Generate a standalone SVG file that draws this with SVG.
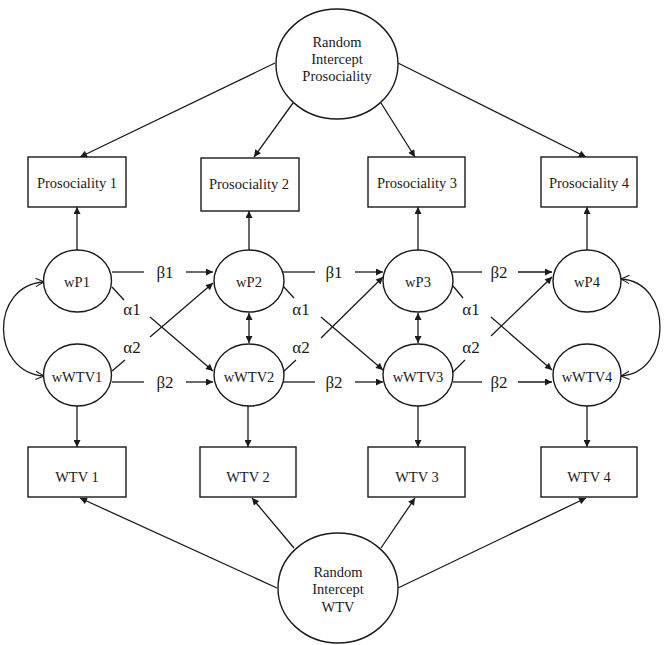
<svg xmlns="http://www.w3.org/2000/svg" width="664" height="645" viewBox="0 0 664 645">
<style>
.n{fill:#fff;stroke:#1a1a1a;stroke-width:1.4}
.t{font-family:"Liberation Serif","Times New Roman",serif;font-size:14.5px;fill:#1a1a1a;text-anchor:middle}
.g{font-family:"Liberation Serif","Times New Roman",serif;font-size:17px;fill:#1a1a1a;text-anchor:middle}
.e{fill:none;stroke:#1a1a1a;stroke-width:1.3}
.a{marker-end:url(#arr)}
.d{marker-start:url(#arr);marker-end:url(#arr)}
.o{marker-start:url(#open);marker-end:url(#open)}
</style>
<defs>
<marker id="arr" viewBox="0 0 10 10" refX="10" refY="5" markerWidth="8" markerHeight="7" markerUnits="userSpaceOnUse" orient="auto-start-reverse"><path d="M0,0 L10,5 L0,10 z" fill="#1a1a1a"/></marker>
<marker id="open" viewBox="0 0 12 12" refX="11" refY="6" markerWidth="10" markerHeight="11" markerUnits="userSpaceOnUse" orient="auto-start-reverse"><path d="M1,1 L11,6 L1,11" fill="none" stroke="#1a1a1a" stroke-width="1.3"/></marker>
</defs>
<rect width="664" height="645" fill="#fff"/>
<g id="connectors">
<line class="e a" x1="275" y1="63" x2="80" y2="157"/>
<line class="e a" x1="293" y1="103" x2="254" y2="157"/>
<line class="e a" x1="381" y1="103" x2="415" y2="157"/>
<line class="e a" x1="398" y1="63" x2="586" y2="157"/>
<line class="e a" x1="277" y1="588" x2="80" y2="498"/>
<line class="e a" x1="294" y1="548" x2="252" y2="498"/>
<line class="e a" x1="381" y1="548" x2="415" y2="498"/>
<line class="e a" x1="398" y1="588" x2="586" y2="498"/>
<line class="e a" x1="77" y1="250" x2="77" y2="207"/>
<line class="e a" x1="249" y1="250" x2="249" y2="211"/>
<line class="e a" x1="418" y1="250" x2="418" y2="207"/>
<line class="e a" x1="587" y1="250" x2="587" y2="207"/>
<line class="e a" x1="77" y1="406" x2="77" y2="447"/>
<line class="e a" x1="248" y1="406" x2="248" y2="447"/>
<line class="e a" x1="418" y1="406" x2="418" y2="447"/>
<line class="e a" x1="587" y1="406" x2="587" y2="447"/>
<line class="e d" x1="249" y1="313" x2="249" y2="343"/>
<line class="e d" x1="418" y1="313" x2="418" y2="343"/>
<path class="e o" d="M44,282 C-10,285 -10,372 44,376"/>
<path class="e o" d="M621,279 C673,282 673,372 621,376"/>
<line class="e" x1="112" y1="272" x2="144" y2="272"/>
<line class="e a" x1="186" y1="272" x2="213" y2="272"/>
<line class="e" x1="283" y1="272" x2="315" y2="272"/>
<line class="e a" x1="355" y1="272" x2="383" y2="272"/>
<line class="e" x1="452" y1="272" x2="482" y2="272"/>
<line class="e a" x1="518" y1="272" x2="552" y2="272"/>
<line class="e" x1="112" y1="382" x2="144" y2="382"/>
<line class="e a" x1="186" y1="382" x2="213" y2="382"/>
<line class="e" x1="283" y1="382" x2="315" y2="382"/>
<line class="e a" x1="355" y1="382" x2="383" y2="382"/>
<line class="e" x1="453" y1="382" x2="482" y2="382"/>
<line class="e a" x1="518" y1="382" x2="552" y2="382"/>
<line class="e" x1="112" y1="287" x2="124" y2="300"/>
<line class="e a" x1="150" y1="317" x2="213" y2="371"/>
<line class="e" x1="112" y1="371" x2="125" y2="360"/>
<line class="e a" x1="150" y1="337" x2="213" y2="283"/>
<line class="e" x1="283" y1="286" x2="294" y2="298"/>
<line class="e a" x1="321" y1="317" x2="383" y2="370"/>
<line class="e" x1="283" y1="372" x2="296" y2="360"/>
<line class="e a" x1="321" y1="338" x2="383" y2="277"/>
<line class="e" x1="453" y1="286" x2="463" y2="298"/>
<line class="e a" x1="491" y1="317" x2="552" y2="370"/>
<line class="e" x1="452" y1="373" x2="465" y2="360"/>
<line class="e a" x1="491" y1="336" x2="552" y2="277"/>
</g>
<g id="edge-labels">
<text class="g" x="165" y="278">β1</text>
<text class="g" x="334" y="278">β1</text>
<text class="g" x="499" y="278">β2</text>
<text class="g" x="165" y="388">β2</text>
<text class="g" x="334" y="388">β2</text>
<text class="g" x="499" y="388">β2</text>
<text class="g" x="132" y="315">α1</text>
<text class="g" x="301" y="315">α1</text>
<text class="g" x="471" y="315">α1</text>
<text class="g" x="132" y="353">α2</text>
<text class="g" x="301" y="353">α2</text>
<text class="g" x="471" y="353">α2</text>
</g>
<g id="ri-prosociality"><ellipse class="n" cx="337" cy="64" rx="61" ry="55"/><text class="t" x="337" y="47">Random</text><text class="t" x="337" y="64">Intercept</text><text class="t" x="337" y="81">Prosociality</text></g>
<g id="ri-wtv"><ellipse class="n" cx="338" cy="588" rx="60" ry="55"/><text class="t" x="338" y="577">Random</text><text class="t" x="338" y="594">Intercept</text><text class="t" x="338" y="612">WTV</text></g>
<g id="prosociality1"><rect class="n" x="28" y="157" width="98" height="50"/><text class="t" x="77" y="188">Prosociality 1</text></g>
<g id="prosociality2"><rect class="n" x="201" y="158" width="98" height="53"/><text class="t" x="249" y="189">Prosociality 2</text></g>
<g id="prosociality3"><rect class="n" x="368" y="157" width="97" height="50"/><text class="t" x="417" y="188">Prosociality 3</text></g>
<g id="prosociality4"><rect class="n" x="541" y="157" width="96" height="50"/><text class="t" x="589" y="188">Prosociality 4</text></g>
<g id="wP1"><ellipse class="n" cx="77.5" cy="281" rx="34" ry="31"/><text class="t" x="77" y="287">wP1</text></g>
<g id="wP2"><ellipse class="n" cx="249" cy="281" rx="35" ry="31"/><text class="t" x="249" y="287">wP2</text></g>
<g id="wP3"><ellipse class="n" cx="418" cy="281" rx="35" ry="31"/><text class="t" x="418" y="287">wP3</text></g>
<g id="wP4"><ellipse class="n" cx="587" cy="281" rx="34" ry="31"/><text class="t" x="587" y="287">wP4</text></g>
<g id="wWTV1"><ellipse class="n" cx="77.5" cy="375" rx="34" ry="31"/><text class="t" x="77" y="382">wWTV1</text></g>
<g id="wWTV2"><ellipse class="n" cx="249" cy="375" rx="35" ry="31"/><text class="t" x="249" y="382">wWTV2</text></g>
<g id="wWTV3"><ellipse class="n" cx="418" cy="375" rx="35" ry="31"/><text class="t" x="418" y="382">wWTV3</text></g>
<g id="wWTV4"><ellipse class="n" cx="587" cy="375" rx="34" ry="31"/><text class="t" x="587" y="382">wWTV4</text></g>
<g id="wtv1"><rect class="n" x="28" y="447" width="98" height="50"/><text class="t" x="77" y="482">WTV 1</text></g>
<g id="wtv2"><rect class="n" x="200" y="447" width="96" height="50"/><text class="t" x="248" y="482">WTV 2</text></g>
<g id="wtv3"><rect class="n" x="368" y="447" width="97" height="50"/><text class="t" x="417" y="482">WTV 3</text></g>
<g id="wtv4"><rect class="n" x="541" y="447" width="96" height="50"/><text class="t" x="589" y="482">WTV 4</text></g>
</svg>
